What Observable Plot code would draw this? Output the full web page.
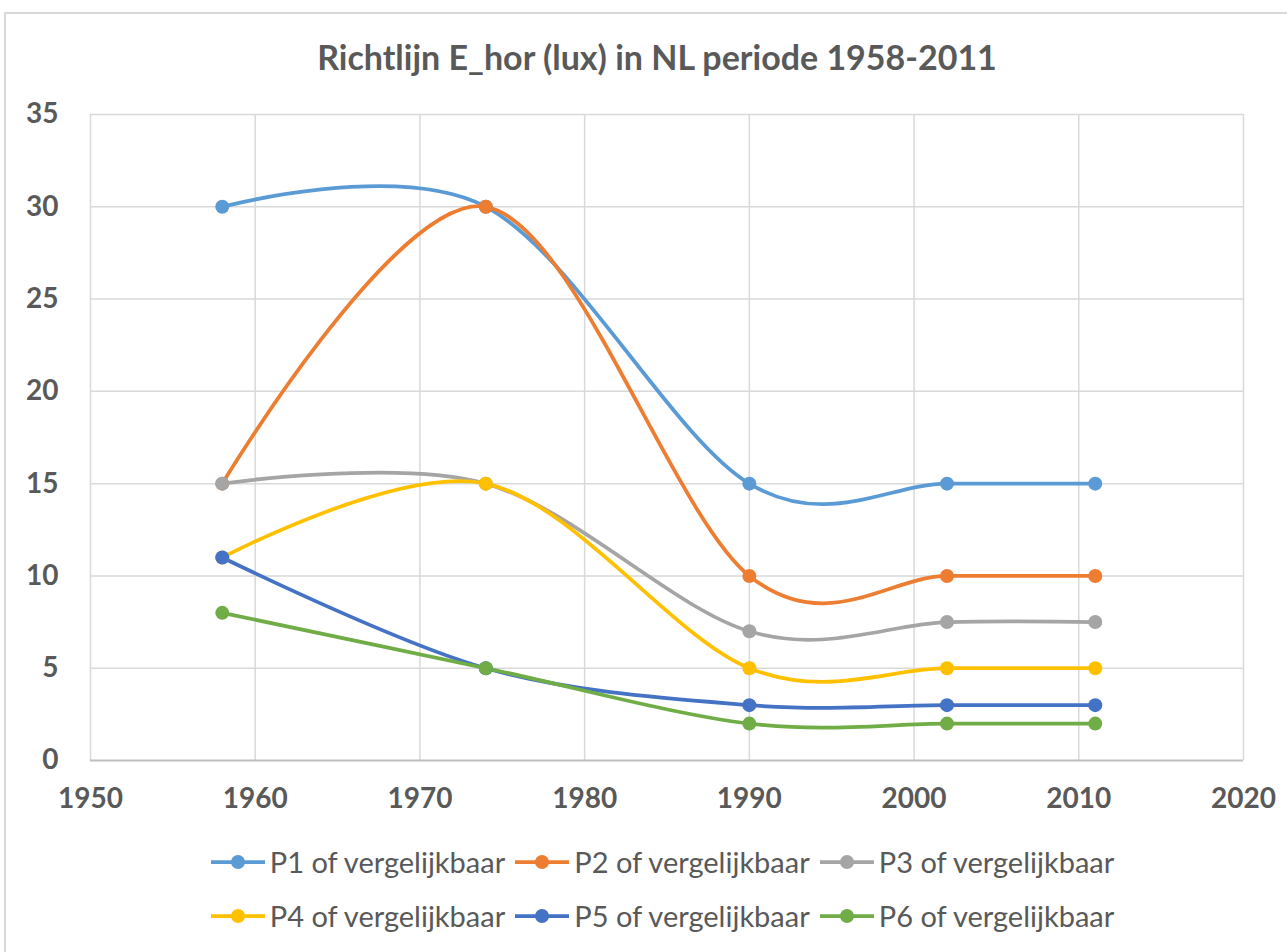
<!DOCTYPE html>
<html>
<head>
<meta charset="utf-8">
<script src="https://cdn.jsdelivr.net/npm/d3@7"></script>
<script src="https://cdn.jsdelivr.net/npm/@observablehq/plot@0.6"></script>
<style>
  html, body { margin: 0; padding: 0; background: #fff; }
  #wrap { position: relative; width: 1287px; height: 952px; overflow: hidden; font-family: Lato, "Open Sans", sans-serif; }
  #frame { position: absolute; left: 4px; top: 12px; width: 1320px; height: 1000px; border: 2px solid #d9d9d9; box-sizing: border-box; }
  #title { position: absolute; left: 4px; width: 1306px; top: 36px; text-align: center; font-weight: bold; font-size: 34px; color: #595959; line-height: 42px; }
  #chart { position: absolute; left: 0; top: 90px; }
  .lrow { position: absolute; left: 4px; width: 1316px; height: 36px; display: flex; justify-content: center; align-items: center; gap: 9px; font-size: 29px; color: #595959; }
  .item { display: flex; align-items: center; line-height: 36px; }
  .item svg { margin-right: 4px; }
</style>
</head>
<body>
<div id="wrap">
  <div id="frame"></div>
  <div id="title">Richtlijn E_hor (lux) in NL periode 1958-2011</div>
  <div id="chart"></div>
  <div class="lrow" id="row1" style="top:844px"></div>
  <div class="lrow" id="row2" style="top:898px"></div>
</div>
<script>
const years = [1958, 1974, 1990, 2002, 2011];
const seriesNames = ["P1 of vergelijkbaar", "P2 of vergelijkbaar", "P3 of vergelijkbaar", "P4 of vergelijkbaar", "P5 of vergelijkbaar", "P6 of vergelijkbaar"];
const p1 = [30, 30, 15, 15, 15];
const p2 = [15, 30, 10, 10, 10];
const p3 = [15, 15, 7, 7.5, 7.5];
const p4 = [11, 15, 5, 5, 5];
const p5 = [11, 5, 3, 3, 3];
const p6 = [8, 5, 2, 2, 2];
const colors = ["#5b9bd5", "#ed7d31", "#a5a5a5", "#ffc000", "#4472c4", "#70ad47"];
const xTicks = [1950, 1960, 1970, 1980, 1990, 2000, 2010, 2020];
const yTicks = [0, 5, 10, 15, 20, 25, 30, 35];

const allSeries = [p1, p2, p3, p4, p5, p6];
const data = [];
allSeries.forEach((vals, i) => vals.forEach((v, j) => data.push({series: seriesNames[i], year: years[j], value: v})));

const marks = [
  Plot.gridX(xTicks, {stroke: "#d9d9d9", strokeOpacity: 1, strokeWidth: 1.5}),
  Plot.gridY(yTicks.filter(d => d > 0), {stroke: "#d9d9d9", strokeOpacity: 1, strokeWidth: 1.5}),
  Plot.ruleY([0], {stroke: "#bfbfbf", strokeWidth: 2}),
  Plot.axisX(xTicks, {tickSize: 0, tickPadding: 28, fontSize: 28, fontWeight: "bold", fill: "#595959", tickFormat: d => String(d), label: null}),
  Plot.axisY(yTicks, {tickSize: 0, tickPadding: 32, fontSize: 28, fontWeight: "bold", fill: "#595959", label: null})
];
seriesNames.forEach((name, i) => {
  const d = data.filter(r => r.series === name);
  marks.push(Plot.line(d, {x: "year", y: "value", stroke: colors[i], strokeWidth: 3.75, curve: "cardinal", tension: 0}));
});
seriesNames.forEach((name, i) => {
  const d = data.filter(r => r.series === name);
  marks.push(Plot.dot(d, {x: "year", y: "value", fill: colors[i], r: 7}));
});

const chart = Plot.plot({
  width: 1287,
  height: 740,
  marginTop: 24,
  marginLeft: 90,
  marginRight: 44,
  marginBottom: 70,
  x: {domain: [1950, 2020]},
  y: {domain: [0, 35]},
  style: {fontFamily: "Lato, 'Open Sans', sans-serif", background: "transparent"},
  marks
});
document.getElementById("chart").appendChild(chart);

seriesNames.forEach((name, i) => {
  const row = document.getElementById(i < 3 ? "row1" : "row2");
  const item = document.createElement("div");
  item.className = "item";
  item.innerHTML = `<svg width="56" height="20"><line x1="1" x2="55" y1="10" y2="10" stroke="${colors[i]}" stroke-width="3.75"/><circle cx="28" cy="10" r="7" fill="${colors[i]}"/></svg><span>${name}</span>`;
  row.appendChild(item);
});
</script>
</body>
</html>
